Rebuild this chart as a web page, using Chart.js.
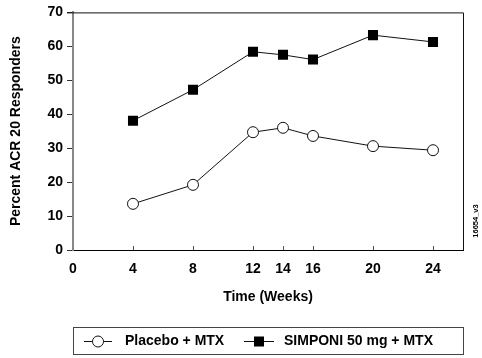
<!DOCTYPE html>
<html>
<head>
<meta charset="utf-8">
<script src="https://cdn.jsdelivr.net/npm/chart.js@4/dist/chart.umd.min.js"></script>
<style>
html,body{margin:0;padding:0;background:#fff;}
#wrap{width:482px;height:358px;position:relative;}
</style>
</head>
<body>
<div id="wrap"><canvas id="c" width="482" height="358"></canvas></div>
<script>
const weeks = [4, 8, 12, 14, 16, 20, 24];
const placebo = [13.6, 19.2, 34.7, 36.0, 33.6, 30.6, 29.4];
const simponi = [38.1, 47.2, 58.4, 57.5, 56.1, 63.3, 61.3];
const xTicks = [0, 4, 8, 12, 14, 16, 20, 24];
const seriesNames = ['Placebo + MTX', 'SIMPONI 50 mg + MTX'];
const xTitle = 'Time (Weeks)';
const yTitle = 'Percent ACR 20 Responders';
const figId = '16654_v3';

const FONT = '"Liberation Sans", Arial, Helvetica, sans-serif';

const framePlugin = {
  id: 'frame',
  afterDatasetsDraw(chart) {
    const {ctx, chartArea: a, scales} = chart;
    ctx.save();
    // top and right border
    ctx.strokeStyle = '#111';
    ctx.lineWidth = 1;
    ctx.beginPath();
    ctx.moveTo(a.left - 6, a.top + 0.5);
    ctx.lineTo(a.right + 0.5, a.top + 0.5);
    ctx.lineTo(a.right + 0.5, a.bottom);
    ctx.stroke();
    // inside x ticks
    ctx.strokeStyle = '#555';
    ctx.beginPath();
    xTicks.forEach(v => {
      if (v === 0) return;
      const px = Math.round(scales.x.getPixelForValue(v)) + 0.5;
      ctx.moveTo(px, a.bottom);
      ctx.lineTo(px, a.bottom - 4);
    });
    ctx.stroke();
    ctx.restore();
  },
  afterDraw(chart) {
    const {ctx, chartArea: a} = chart;
    ctx.save();
    // legend box
    const top = 327, bot = 354;
    ctx.strokeStyle = '#444';
    ctx.lineWidth = 1;
    ctx.strokeRect(a.left + 0.5, top + 0.5, a.right - a.left, bot - top);
    const cy = 341.5;
    ctx.font = 'bold 14px ' + FONT;
    ctx.fillStyle = '#000';
    ctx.textBaseline = 'middle';
    const items = [
      {x0: a.left + 11, x1: a.left + 39, tx: a.left + 52, ds: 0},
      {x0: a.left + 171, x1: a.left + 201, tx: a.left + 211, ds: 1}
    ];
    items.forEach(it => {
      ctx.strokeStyle = '#111';
      ctx.lineWidth = 1;
      ctx.beginPath();
      ctx.moveTo(it.x0, cy);
      ctx.lineTo(it.x1, cy);
      ctx.stroke();
      const mx = (it.x0 + it.x1) / 2;
      const d = chart.data.datasets[it.ds];
      if (d.pointStyle === 'circle') {
        ctx.beginPath();
        ctx.arc(mx, cy, d.pointRadius, 0, Math.PI * 2);
        ctx.fillStyle = '#fff';
        ctx.fill();
        ctx.stroke();
      } else {
        ctx.fillStyle = '#000';
        ctx.fillRect(mx - 5, cy - 5, 10, 10);
      }
      ctx.fillStyle = '#000';
      ctx.fillText(d.label, it.tx, cy);
    });
    // figure id
    ctx.save();
    ctx.translate(476, 221);
    ctx.rotate(-Math.PI / 2);
    ctx.font = 'bold 7.5px ' + FONT;
    ctx.textAlign = 'center';
    ctx.textBaseline = 'middle';
    ctx.fillText(figId, 0, 0);
    ctx.restore();
    ctx.restore();
  }
};

new Chart(document.getElementById('c'), {
  type: 'line',
  data: {
    datasets: [
      {
        label: seriesNames[0],
        data: weeks.map((w, i) => ({x: w, y: placebo[i]})),
        borderColor: '#111',
        borderWidth: 1,
        pointStyle: 'circle',
        pointRadius: 5.5,
        pointBackgroundColor: '#fff',
        pointBorderColor: '#111',
        pointBorderWidth: 1,
        tension: 0
      },
      {
        label: seriesNames[1],
        data: weeks.map((w, i) => ({x: w, y: simponi[i]})),
        borderColor: '#111',
        borderWidth: 1,
        pointStyle: 'rect',
        pointRadius: 7.1,
        pointBackgroundColor: '#000',
        pointBorderColor: '#000',
        pointBorderWidth: 0,
        tension: 0
      }
    ]
  },
  options: {
    responsive: false,
    animation: false,
    devicePixelRatio: 1,
    layout: {padding: {left: 0, right: 19, top: 12, bottom: 40}},
    plugins: {legend: {display: false}, tooltip: {enabled: false}},
    scales: {
      x: {
        type: 'linear',
        min: 0,
        max: 26,
        afterBuildTicks: s => { s.ticks = xTicks.map(v => ({value: v})); },
        afterFit: s => { s.height = 68; },
        grid: {display: true, drawOnChartArea: false, drawTicks: false},
        border: {display: true, color: '#000', width: 1},
        ticks: {
          padding: 11,
          color: '#000',
          font: {family: FONT, size: 14, weight: 'bold'},
          maxRotation: 0,
          autoSkip: false
        },
        title: {
          display: true,
          text: xTitle,
          color: '#000',
          font: {family: FONT, size: 14, weight: 'bold'},
          padding: {top: 0, bottom: 12}
        }
      },
      y: {
        min: 0,
        max: 70,
        afterFit: s => { s.width = 73; },
        ticks: {
          stepSize: 10,
          padding: 4,
          color: '#000',
          font: {family: FONT, size: 14, weight: 'bold'}
        },
        grid: {display: true, drawOnChartArea: false, drawTicks: true, tickLength: 6, color: '#333'},
        border: {display: true, color: '#888', width: 2},
        title: {
          display: true,
          text: yTitle,
          color: '#000',
          font: {family: FONT, size: 14, weight: 'bold'},
          padding: {top: 8, bottom: 0}
        }
      }
    }
  },
  plugins: [framePlugin]
});
</script>
</body>
</html>
